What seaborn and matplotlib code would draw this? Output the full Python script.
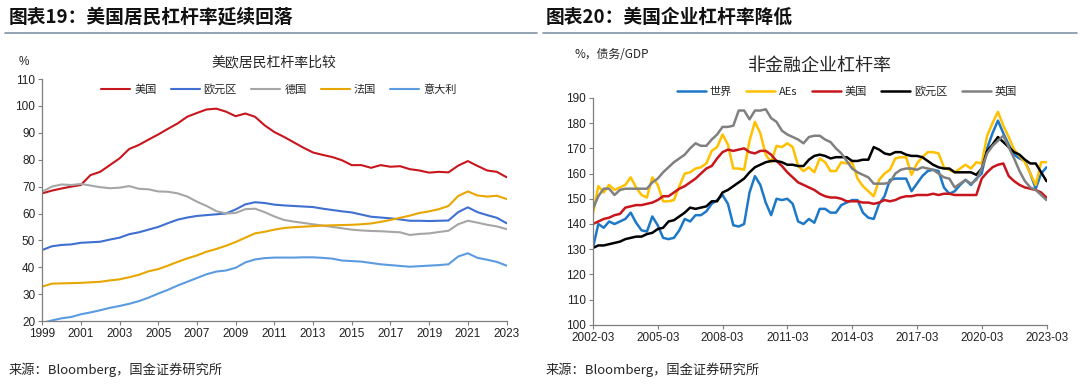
import numpy as np
import pandas as pd
import matplotlib
matplotlib.use("Agg")
import matplotlib.pyplot as plt
import seaborn as sns

# ---------------- left panel: household leverage (semi-annual) ----------------
years = np.arange(1999, 2023.01, 0.5)
us_hh = [67.5, 68.5, 69.3, 70.0, 70.6, 74.3, 75.5, 78.0, 80.5, 84.0, 85.5, 87.5, 89.4,
         91.5, 93.5, 96.0, 97.4, 98.7, 99.0, 97.9, 96.2, 97.2, 96.0, 92.8, 90.3, 88.5,
         86.5, 84.5, 82.7, 81.8, 81.0, 79.8, 78.0, 78.0, 77.0, 78.0, 77.4, 77.6, 76.5,
         76.0, 75.2, 75.5, 75.3, 77.8, 79.5, 77.7, 76.0, 75.5, 73.5]
ez_hh = [46.4, 47.8, 48.3, 48.5, 49.1, 49.3, 49.5, 50.3, 51.0, 52.3, 53.0, 54.0, 55.0,
         56.4, 57.7, 58.5, 59.1, 59.4, 59.7, 60.0, 61.5, 63.4, 64.2, 63.9, 63.3, 63.0,
         62.8, 62.6, 62.4, 61.8, 61.3, 60.8, 60.4, 59.6, 58.8, 58.5, 58.2, 57.8, 57.3,
         57.3, 57.2, 57.3, 57.4, 60.5, 62.3, 60.5, 59.4, 58.4, 56.4]
de_hh = [68.1, 70.0, 70.8, 70.6, 71.0, 70.4, 69.8, 69.4, 69.6, 70.2, 69.2, 69.0, 68.2,
         68.1, 67.5, 66.3, 64.4, 62.8, 60.9, 60.0, 60.2, 61.6, 61.8, 60.5, 58.9, 57.6,
         57.0, 56.5, 56.0, 55.5, 55.0, 54.5, 54.0, 53.7, 53.5, 53.4, 53.2, 53.0, 52.0,
         52.4, 52.6, 53.1, 53.6, 56.0, 57.3, 56.6, 55.8, 55.2, 54.2]
fr_hh = [32.8, 33.9, 34.0, 34.1, 34.2, 34.4, 34.6, 35.1, 35.5, 36.3, 37.2, 38.5, 39.3,
         40.6, 42.0, 43.3, 44.4, 45.8, 46.8, 48.0, 49.4, 51.0, 52.6, 53.2, 54.0, 54.6,
         54.9, 55.1, 55.3, 55.5, 55.6, 55.7, 55.8, 56.0, 56.3, 56.9, 57.6, 58.4, 59.2,
         60.2, 60.8, 61.6, 62.8, 66.5, 68.2, 66.7, 66.3, 66.6, 65.4]
it_hh = [19.3, 20.2, 21.0, 21.5, 22.5, 23.2, 24.0, 24.9, 25.6, 26.4, 27.4, 28.7, 30.2,
         31.6, 33.2, 34.6, 36.0, 37.4, 38.4, 38.8, 39.8, 41.8, 42.9, 43.4, 43.6, 43.6,
         43.6, 43.7, 43.7, 43.5, 43.2, 42.5, 42.3, 42.1, 41.6, 41.1, 40.8, 40.5, 40.2,
         40.4, 40.6, 40.8, 41.1, 44.0, 45.2, 43.5, 42.8, 42.0, 40.6]
left_names = ["美国", "欧元区", "德国", "法国", "意大利"]
left_colors = ["#C8161D", "#3F6FD1", "#A6A6A6", "#E8A600", "#5B9BE0"]

# ---------------- right panel: non-financial corporate leverage (quarterly) ----------------
world = [130.5, 140, 138.5, 141, 140, 141, 142, 144.5, 140.5, 137.5, 137, 143, 139.5, 134.5,
         134, 134.5, 137.5, 142, 141, 143.5, 143.5, 145, 148, 149.5, 151.5, 148, 139.5, 139,
         140, 152.5, 159, 155.5, 148.5, 143.5, 150, 149.5, 150, 148, 141, 140, 142, 140.5,
         146, 146, 144.5, 144.5, 147.5, 148.5, 149.5, 149.5, 144.5, 142.5, 142, 148, 151,
         157.5, 158, 158, 158, 153, 156, 159, 161, 161.5, 161, 154.5, 152, 153, 155.5, 157.5,
         155.5, 158, 160, 170, 176, 181, 176, 171.5, 167.5, 166, 165, 160, 154, 160, 162.5]
aes = [144, 155, 152.5, 155.5, 153.5, 154.5, 155.5, 158.5, 154.5, 151.5, 150.5, 158.5, 155.5,
       149, 149, 149.5, 155, 160, 160.5, 162, 162.5, 164, 169, 170.5, 175.5, 171.5, 162, 162,
       161.5, 173, 180.5, 176, 167.5, 164.5, 171, 170.5, 172, 170.5, 163, 161, 162.5, 160.5,
       166, 164.5, 161, 161, 164.5, 164, 164.5, 158, 155, 153, 151, 157.5, 160, 161.5, 166,
       166.5, 166.5, 159.5, 164, 166.5, 168.5, 168.5, 168, 162.5, 161.5, 160.5, 162, 163.5,
       162, 164.5, 164, 175, 180, 184.5, 179, 174.5, 169.5, 167, 164.5, 160, 155.5, 164.5, 164.5]
us_corp = [140, 141, 142, 142.5, 143.5, 144, 146.5, 147, 147.5, 147.5, 148, 148.5, 149.5, 151,
           151, 152.5, 154, 155, 156.5, 158, 160, 162, 163, 166, 168.5, 169.5, 169, 169.5, 170,
           168.5, 168, 169, 169, 167.5, 165, 163, 160.5, 158.5, 156.5, 155.5, 154.5, 153.5,
           152, 151, 150.5, 150.5, 150, 149, 149, 149, 148.5, 148.5, 148, 148.5, 149.5, 149,
           149.5, 150.5, 151, 151, 151.5, 151.5, 151.5, 152, 151.5, 152, 152, 151.5, 151.5,
           151.5, 151.5, 151.5, 158, 160.5, 162.5, 163.5, 164, 159, 157, 155.5, 154.5, 154,
           153.5, 152.5, 150.5]
ez_corp = [130.5, 131.5, 131.5, 132, 132.5, 133, 134, 134.5, 135, 135, 136, 136.5, 138, 138.5,
           141, 141.5, 143, 144.5, 146.5, 146, 146.5, 147, 149, 149, 152.5, 153.5, 155, 156.5,
           158, 160.5, 162.5, 163.5, 164.5, 165, 165, 164.5, 163.5, 163.5, 163, 163, 165.5, 167,
           167.5, 167, 166, 166.5, 166.5, 166.5, 165, 165, 165.5, 165.5, 170.5, 169.5, 168,
           167.5, 168.5, 168.5, 167.5, 167, 167, 166.5, 165, 163.5, 162.5, 162, 162, 160.5,
           160.5, 160.5, 160.5, 159.5, 162, 169, 171.5, 174.5, 172.5, 170.5, 168.5, 167.5,
           165.5, 164, 164, 160.5, 157]
uk_corp = [146, 151, 154, 154, 151.5, 153.5, 154, 154, 154, 154, 154, 156.5, 158, 160.5, 162.5,
           164.5, 166, 167.5, 170, 172, 171, 171, 173.5, 175.5, 178.5, 178.5, 179, 185, 185,
           181.5, 185, 185, 185.5, 182, 180.5, 177, 175.5, 174.5, 173.5, 172, 174.5, 175, 175,
           173.5, 172.5, 170, 168, 165, 162, 160.5, 159.5, 158.5, 156, 156, 156, 156.5, 160,
           161.5, 162, 162, 161.5, 162.5, 162, 161.5, 160, 158.5, 158, 154.5, 156, 157.5, 156,
           157.5, 162, 168, 171, 173, 175, 170.5, 166, 161, 157, 154.5, 153.5, 151.5, 149.5]
right_names = ["世界", "AEs", "美国", "欧元区", "英国"]
right_colors = ["#1E78C8", "#FFC000", "#C8161D", "#000000", "#808080"]
right_ticks = ["2002-03", "2005-03", "2008-03", "2011-03", "2014-03", "2017-03", "2020-03", "2023-03"]

sns.set_theme(style="white")
plt.rcParams["font.family"] = ["Liberation Sans", "Noto Sans CJK SC", "DejaVu Sans"]
cjk = ["Noto Sans CJK SC", "DejaVu Sans"]

fig = plt.figure(figsize=(10.8, 3.84), dpi=100)

# headers, rules, sources
fig.text(0.008, 0.955, "图表19：美国居民杠杆率延续回落", family=cjk, fontsize=13.5,
         fontweight="bold", va="center", color="#111111")
fig.text(0.505, 0.955, "图表20：美国企业杠杆率降低", family=cjk, fontsize=13.5,
         fontweight="bold", va="center", color="#111111")
fig.add_artist(plt.Line2D([0.005, 0.497], [0.913, 0.913], color="#7F93A8", lw=1.2))
fig.add_artist(plt.Line2D([0.503, 0.997], [0.913, 0.913], color="#7F93A8", lw=1.2))
fig.text(0.008, 0.037, "来源：Bloomberg，国金证券研究所", family=cjk, fontsize=9.5, va="center")
fig.text(0.505, 0.037, "来源：Bloomberg，国金证券研究所", family=cjk, fontsize=9.5, va="center")

leg_kw = dict(ncol=5, frameon=False, prop={"family": cjk, "size": 8}, handlelength=2.6,
              columnspacing=1.3, handletextpad=0.35, borderaxespad=0)

# ---------- left axes ----------
ax1 = fig.add_axes([0.039, 0.164, 0.430, 0.630])
df1 = pd.DataFrame({"year": np.tile(years, 5),
                    "value": us_hh + ez_hh + de_hh + fr_hh + it_hh,
                    "series": np.repeat(left_names, len(years))})
sns.lineplot(data=df1, x="year", y="value", hue="series", hue_order=left_names,
             palette=left_colors, linewidth=1.5, ax=ax1)
ax1.set_xlim(1999, 2023)
ax1.set_ylim(20, 110)
ax1.set_xticks(range(1999, 2024, 2))
ax1.set_yticks(range(20, 111, 10))
ax1.set_xlabel("")
ax1.set_ylabel("")
ax1.legend(loc="center", bbox_to_anchor=(0.51, 0.958), **leg_kw)
ax1.text(0.5, 1.07, "美欧居民杠杆率比较", transform=ax1.transAxes, ha="center",
         va="center", family=cjk, fontsize=10)
ax1.text(-0.04, 1.07, "%", transform=ax1.transAxes, ha="center", va="center", fontsize=8.5)

# ---------- right axes ----------
ax2 = fig.add_axes([0.549, 0.154, 0.420, 0.591])
n = len(world)
df2 = pd.DataFrame({"q": np.tile(np.arange(n), 5),
                    "value": world + aes + us_corp + ez_corp + uk_corp,
                    "series": np.repeat(right_names, n)})
sns.lineplot(data=df2, x="q", y="value", hue="series", hue_order=right_names,
             palette=right_colors, linewidth=1.8, ax=ax2)
ax2.set_xlim(0, n - 1)
ax2.set_ylim(100, 190)
ax2.set_xticks(range(0, n, 12))
ax2.set_xticklabels(right_ticks)
ax2.set_yticks(range(100, 191, 10))
ax2.set_xlabel("")
ax2.set_ylabel("")
ax2.legend(loc="center", bbox_to_anchor=(0.56, 1.028), **leg_kw)
ax2.text(0.5, 1.14, "非金融企业杠杆率", transform=ax2.transAxes, ha="center",
         va="center", family=cjk, fontsize=13)
ax2.text(-0.04, 1.19, "%，债务/GDP", transform=ax2.transAxes, ha="left",
         va="center", family=cjk, fontsize=8.5)

for ax in (ax1, ax2):
    sns.despine(ax=ax)
    for s in ("left", "bottom"):
        ax.spines[s].set_color("#7F7F7F")
        ax.spines[s].set_linewidth(0.9)
    ax.tick_params(axis="both", which="major", direction="out", length=3, width=0.8,
                   color="#7F7F7F", labelsize=8.5, labelcolor="#222222", pad=2,
                   left=True, bottom=True)

fig.savefig("out.png", dpi=100)
